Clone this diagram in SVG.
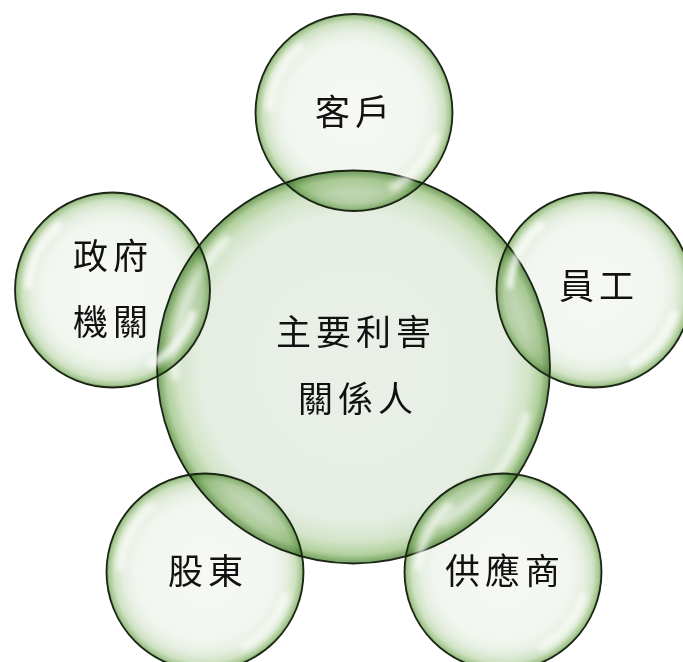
<svg xmlns="http://www.w3.org/2000/svg" xmlns:xlink="http://www.w3.org/1999/xlink" width="683" height="662" viewBox="0 0 683 662">
<style>
.lbl{font-family:"Liberation Serif","Noto Sans CJK TC",serif;font-size:35px;fill:#111;text-anchor:middle;dominant-baseline:central;letter-spacing:5px}
.rim{fill:none;stroke:#1a2515;stroke-width:1.8}
.fill{mix-blend-mode:multiply}
</style>
<defs>
<radialGradient id="gs" cx="0" cy="0" r="1" gradientUnits="userSpaceOnUse">
<stop offset="0" stop-color="#f6f8f4"/>
<stop offset="0.7" stop-color="#f2f6f0"/>
<stop offset="0.83" stop-color="#e5eee0"/>
<stop offset="0.92" stop-color="#cfe2c3"/>
<stop offset="0.975" stop-color="#a6c792"/>
<stop offset="1" stop-color="#76a062"/>
</radialGradient>
<radialGradient id="gc" cx="0" cy="0" r="1" gradientUnits="userSpaceOnUse">
<stop offset="0" stop-color="#eaf0e8"/>
<stop offset="0.78" stop-color="#e6eee3"/>
<stop offset="0.89" stop-color="#d3e4c8"/>
<stop offset="0.955" stop-color="#b2d19e"/>
<stop offset="1" stop-color="#739e5e"/>
</radialGradient>
<filter id="blur" x="-50%" y="-50%" width="200%" height="200%"><feGaussianBlur stdDeviation="0.03"/></filter>
<filter id="blurC" x="-50%" y="-50%" width="200%" height="200%"><feGaussianBlur stdDeviation="0.015"/></filter>
<g id="hlS">
<path d="M -0.86 -0.05 A 0.87 0.87 0 0 1 -0.55 -0.67" fill="none" stroke="#fff" stroke-width="0.08" stroke-linecap="round" opacity="0.75" filter="url(#blur)"/>
<path d="M 0.82 0.25 A 0.86 0.86 0 0 1 0.4 0.76" fill="none" stroke="#fff" stroke-width="0.09" stroke-linecap="round" opacity="0.7" filter="url(#blur)"/>
</g>
<g id="hlC">
<path d="M -0.91 0.05 A 0.92 0.92 0 0 1 -0.65 -0.65" fill="none" stroke="#fff" stroke-width="0.04" stroke-linecap="round" opacity="0.75" filter="url(#blurC)"/>
<path d="M 0.88 0.25 A 0.91 0.91 0 0 1 0.45 0.79" fill="none" stroke="#fff" stroke-width="0.04" stroke-linecap="round" opacity="0.7" filter="url(#blurC)"/>
</g>
</defs>
<rect width="683" height="662" fill="#fff"/>
<g id="connectors"/>
<g id="node-center">
<circle class="fill" cx="0" cy="0" r="1" fill="url(#gc)" transform="translate(353.5,367) scale(196.5)"/>
<use xlink:href="#hlC" transform="translate(353.5,367) scale(196.5)"/>
<circle class="rim" cx="353.5" cy="367" r="196.5"/>
<text class="lbl" x="356" y="333">主要利害</text>
<text class="lbl" x="358" y="400">關係人</text>
</g>
<g id="node-customer">
<circle class="fill" cx="0" cy="0" r="1" fill="url(#gs)" transform="translate(354,112.5) scale(98.5)"/>
<use xlink:href="#hlS" transform="translate(354,112.5) scale(98.5)"/>
<circle class="rim" cx="354" cy="112.5" r="98.5"/>
<text class="lbl" x="355" y="113">客戶</text>
</g>
<g id="node-government">
<circle class="fill" cx="0" cy="0" r="1" fill="url(#gs)" transform="translate(112.5,290) scale(97.5)"/>
<use xlink:href="#hlS" transform="translate(112.5,290) scale(97.5)"/>
<circle class="rim" cx="112.5" cy="290" r="97.5"/>
<text class="lbl" x="113" y="257">政府</text>
<text class="lbl" x="113" y="323">機關</text>
</g>
<g id="node-employee">
<circle class="fill" cx="0" cy="0" r="1" fill="url(#gs)" transform="translate(594,290) scale(97.5)"/>
<use xlink:href="#hlS" transform="translate(594,290) scale(97.5)"/>
<circle class="rim" cx="594" cy="290" r="97.5"/>
<text class="lbl" x="599" y="287">員工</text>
</g>
<g id="node-shareholder">
<circle class="fill" cx="0" cy="0" r="1" fill="url(#gs)" transform="translate(205,572) scale(98.5)"/>
<use xlink:href="#hlS" transform="translate(205,572) scale(98.5)"/>
<circle class="rim" cx="205" cy="572" r="98.5"/>
<text class="lbl" x="208" y="572">股東</text>
</g>
<g id="node-supplier">
<circle class="fill" cx="0" cy="0" r="1" fill="url(#gs)" transform="translate(503,572) scale(98.5)"/>
<use xlink:href="#hlS" transform="translate(503,572) scale(98.5)"/>
<circle class="rim" cx="503" cy="572" r="98.5"/>
<text class="lbl" x="505" y="572">供應商</text>
</g>
</svg>
